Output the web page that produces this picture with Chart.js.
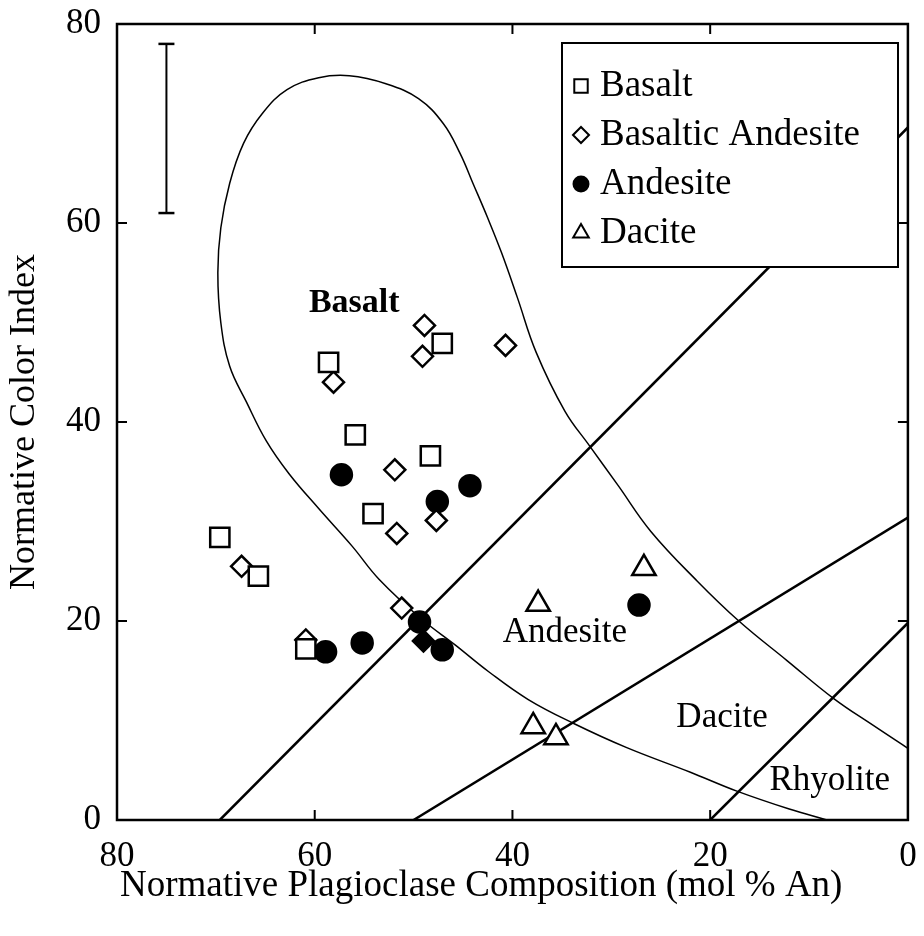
<!DOCTYPE html>
<html>
<head>
<meta charset="utf-8">
<script src="https://cdn.jsdelivr.net/npm/chart.js@4"></script>
<style>
  html, body { margin: 0; padding: 0; background: #fff; }
</style>
</head>
<body>
<canvas id="chart" width="924" height="936"></canvas>
<script>
// ---- data ----
const seriesNames = ['Basalt', 'Basaltic Andesite', 'Andesite', 'Dacite'];

const basaltX = [58.6, 47.1, 55.9, 48.3, 54.1, 69.6, 65.7, 60.9];
const basaltY = [46.0, 47.9, 38.7, 36.6, 30.8, 28.4, 24.5, 17.2];

const basAndX = [48.9, 49.1, 58.1, 40.7, 51.9, 51.7, 47.7, 67.4, 51.2, 60.9];
const basAndY = [49.7, 46.6, 44.0, 47.7, 35.2, 28.8, 30.1, 25.5, 21.3, 18.1];

// the one diamond printed solid (overprinted) in the cluster near 49 / 18
const solidDiamondX = [49.0];
const solidDiamondY = [18.0];

const andesiteX = [57.3, 47.6, 44.3, 49.4, 47.1, 58.9, 55.2, 27.2];
const andesiteY = [34.7, 32.0, 33.6, 19.9, 17.1, 16.9, 17.8, 21.6];

const daciteX = [37.4, 26.7, 37.9, 35.6];
const daciteY = [21.7, 25.3, 9.4, 8.3];

// field boundaries
const line1X = [69.6, 0];  const line1Y = [0, 69.6];
const line2X = [50, 0];    const line2Y = [0, 30.4];
const line3X = [20, 0];    const line3Y = [0, 19.8];

// basalt field envelope
const fieldX = [8.2, 12.0, 17.3, 22.0, 28.5, 33.8, 38.4, 42.4, 45.8, 49.2, 53.5, 56.2, 59.6, 62.6,
  64.9, 66.9, 68.6, 69.5, 69.8, 69.5, 68.6, 67.2, 65.3, 62.8, 59.6, 56.5, 52.8, 49.5, 47.0, 45.3,
  44.0, 42.5, 41.1, 39.5, 37.6, 34.7, 32.2, 29.3, 26.0, 21.3, 17.1, 12.2, 7.5, 3.5, 0];
const fieldY = [0, 1.1, 2.9, 4.8, 7.3, 9.7, 12.1, 14.9, 17.6, 20.2, 24.2, 27.5, 31.3, 34.8,
  38.1, 42.0, 45.6, 50.0, 55.0, 59.5, 64.0, 68.0, 71.0, 73.4, 74.6, 74.8, 74.0, 72.5, 70.0, 67.0,
  64.0, 60.5, 57.0, 52.5, 47.0, 41.1, 37.6, 33.6, 29.0, 24.0, 20.0, 16.0, 12.2, 9.5, 7.2];

// error bar
const errX = [75, 75];
const errY = [61, 78];

const regionNames = ['Basalt', 'Andesite', 'Dacite', 'Rhyolite'];
const regionX = [56.0, 34.7, 18.8, 7.9];
const regionY = [51.9, 18.8, 10.3, 3.9];

const tickValues = [0, 20, 40, 60, 80];
const xTitle = 'Normative Plagioclase Composition (mol % An)';

// ---- helpers ----
const FONT = '"Liberation Serif", "Times New Roman", serif';
const pts = (xs, ys) => xs.map((v, i) => ({ x: v, y: ys[i] }));

function markerSet(label, xs, ys, style, radius, fill) {
  return {
    label: label,
    data: pts(xs, ys),
    pointStyle: style,
    pointRadius: radius,
    pointHoverRadius: radius,
    pointBackgroundColor: fill,
    pointBorderColor: '#000',
    pointBorderWidth: 2.5,
    showLine: false,
    order: 1
  };
}

function lineSet(xs, ys, width, tension) {
  return {
    label: '',
    data: pts(xs, ys),
    showLine: true,
    borderColor: '#000',
    borderWidth: width,
    pointRadius: 0,
    pointHoverRadius: 0,
    tension: tension,
    fill: false,
    order: 5
  };
}

// keep the plot box where the original has it
function noPadding(s) {
  s.paddingTop = 0; s.paddingBottom = 0; s.paddingLeft = 0; s.paddingRight = 0;
}

const legendRadius = [9.5, 8, 7.5, 9];

const decor = {
  id: 'decor',
  afterDatasetsDraw(chart) {
    const { ctx, chartArea: a, scales: { x, y } } = chart;
    ctx.save();
    ctx.fillStyle = '#000';
    ctx.strokeStyle = '#000';

    // region names
    ctx.textAlign = 'center';
    ctx.textBaseline = 'middle';
    regionNames.forEach((name, i) => {
      ctx.font = (i === 0 ? 'bold 34px ' : '35px ') + FONT;
      ctx.fillText(name, x.getPixelForValue(regionX[i]), y.getPixelForValue(regionY[i]));
    });

    // x axis title, left aligned under the axis as in the original
    ctx.font = '37px ' + FONT;
    ctx.textAlign = 'left';
    ctx.fillText(xTitle, a.left + 3, 886);

    // frame
    ctx.lineWidth = 2.5;
    ctx.strokeRect(a.left, a.top, a.right - a.left, a.bottom - a.top);

    // inward ticks on all four sides
    ctx.lineWidth = 2;
    ctx.beginPath();
    tickValues.slice(1, -1).forEach(v => {
      const px = x.getPixelForValue(v);
      const py = y.getPixelForValue(v);
      ctx.moveTo(px, a.bottom); ctx.lineTo(px, a.bottom - 10);
      ctx.moveTo(px, a.top); ctx.lineTo(px, a.top + 10);
      ctx.moveTo(a.left, py); ctx.lineTo(a.left + 10, py);
      ctx.moveTo(a.right, py); ctx.lineTo(a.right - 10, py);
    });
    ctx.stroke();

    // legend box
    const box = { left: 562, top: 43, right: 898, bottom: 267 };
    ctx.fillStyle = '#fff';
    ctx.fillRect(box.left, box.top, box.right - box.left, box.bottom - box.top);
    ctx.lineWidth = 2;
    ctx.strokeRect(box.left, box.top, box.right - box.left, box.bottom - box.top);
    ctx.font = '37px ' + FONT;
    ctx.textAlign = 'left';
    ctx.textBaseline = 'middle';
    seriesNames.forEach((name, i) => {
      const ds = chart.data.datasets[i];
      const cy = 86 + i * 49;
      ctx.fillStyle = ds.pointBackgroundColor;
      ctx.strokeStyle = '#000';
      ctx.lineWidth = 2;
      Chart.helpers.drawPoint(ctx, {
        pointStyle: ds.pointStyle, radius: legendRadius[i], rotation: 0, borderWidth: 2
      }, 581, cy);
      ctx.fillStyle = '#000';
      ctx.fillText(name, 600, cy);
    });
    ctx.restore();
  }
};

new Chart(document.getElementById('chart'), {
  type: 'scatter',
  data: {
    datasets: [
      markerSet(seriesNames[0], basaltX, basaltY, 'rect', 13.6, '#fff'),
      markerSet(seriesNames[1], basAndX, basAndY, 'rectRot', 10.5, '#fff'),
      markerSet(seriesNames[2], andesiteX, andesiteY, 'circle', 10.5, '#000'),
      markerSet(seriesNames[3], daciteX, daciteY, 'triangle', 13.5, '#fff'),
      markerSet('', solidDiamondX, solidDiamondY, 'rectRot', 10.5, '#000'),
      lineSet(line1X, line1Y, 2.5, 0),
      lineSet(line2X, line2Y, 2.5, 0),
      lineSet(line3X, line3Y, 2.5, 0),
      lineSet(fieldX, fieldY, 1.5, 0.4),
      {
        label: '',
        data: pts(errX, errY),
        showLine: true,
        borderColor: '#000',
        borderWidth: 2,
        pointStyle: 'line',
        pointRadius: 8,
        pointHoverRadius: 8,
        pointBorderColor: '#000',
        pointBorderWidth: 2.5,
        order: 4
      }
    ]
  },
  options: {
    responsive: false,
    animation: false,
    events: [],
    layout: { padding: { top: 24, right: 13, left: 0, bottom: 0 } },
    plugins: { legend: { display: false }, tooltip: { enabled: false } },
    scales: {
      x: {
        type: 'linear',
        min: 0, max: 80,
        reverse: true,
        grid: { display: false, drawTicks: false },
        border: { display: false },
        ticks: { stepSize: 20, color: '#000', padding: 16, font: { family: FONT, size: 35 } },
        title: { display: false },
        afterFit: s => { s.height = 116; noPadding(s); }
      },
      y: {
        type: 'linear',
        min: 0, max: 80,
        grid: { display: false, drawTicks: false },
        border: { display: false },
        ticks: { stepSize: 20, color: '#000', padding: 16, font: { family: FONT, size: 35 } },
        title: {
          display: true,
          text: 'Normative Color Index',
          color: '#000',
          padding: 3,
          font: { family: FONT, size: 36 }
        },
        afterFit: s => { s.width = 117; noPadding(s); }
      }
    }
  },
  plugins: [decor]
});
</script>
</body>
</html>
